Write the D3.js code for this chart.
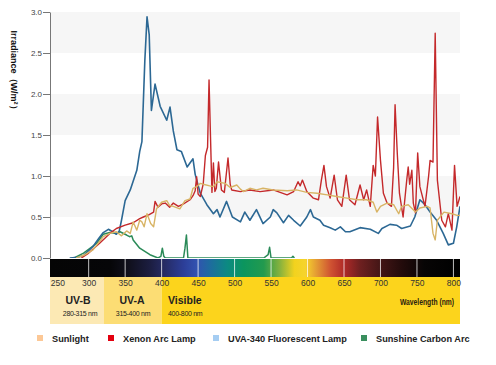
<!DOCTYPE html>
<html><head><meta charset="utf-8">
<script src="https://cdn.jsdelivr.net/npm/d3@7"></script>
<style>body{margin:0;background:#fff}svg{display:block}text{font-family:"Liberation Sans",Arial,sans-serif}</style>
</head><body><svg id="c" width="496" height="365"></svg>
<script>
const yTicks = [0, 0.5, 1.0, 1.5, 2.0, 2.5, 3.0];
const xTicks = [250, 300, 350, 400, 450, 500, 550, 600, 650, 700, 750, 800];
const seriesNames = ["Sunlight", "Xenon Arc Lamp", "UVA-340 Fluorescent Lamp", "Sunshine Carbon Arc"];
const legendColors = ["#fcc896", "#e3000f", "#a5cdf2", "#3a8f5e"];
const lineColors = ["#d8b465", "#c4292b", "#2c6894", "#2a8a58"];
const bands = [
  {label: "UV-B", range: "280-315 nm", from: 247, to: 321},
  {label: "UV-A", range: "315-400 nm", from: 321, to: 400},
  {label: "Visible", range: "400-800 nm", from: 400, to: 809}
];
const sunlight = [[283,0],[295,0.04],[306,0.10],[320,0.26],[329,0.30],[338,0.32],[345,0.27],[352,0.33],[357,0.30],[361,0.44],[366,0.34],[370,0.46],[373,0.44],[376,0.38],[380,0.54],[385,0.42],[389,0.38],[393,0.60],[400,0.68],[407,0.70],[411,0.64],[416,0.63],[425,0.60],[432,0.70],[439,0.72],[443,0.85],[448,0.87],[453,0.91],[457,0.90],[466,0.88],[471,0.87],[476,0.93],[487,0.91],[494,0.86],[503,0.89],[508,0.84],[512,0.81],[521,0.85],[530,0.83],[539,0.85],[553,0.83],[572,0.82],[585,0.83],[599,0.80],[613,0.79],[627,0.77],[640,0.75],[654,0.73],[668,0.71],[681,0.71],[690,0.68],[695,0.56],[700,0.63],[709,0.67],[718,0.65],[725,0.54],[729,0.63],[738,0.65],[748,0.56],[754,0.61],[764,0.63],[768,0.61],[772,0.30],[775,0.22],[778,0.46],[787,0.56],[798,0.54],[805,0.52],[809,0.52]];
const xenon = [[290,0],[300,0.06],[315,0.18],[329,0.30],[338,0.36],[350,0.40],[361,0.43],[370,0.48],[375,0.50],[383,0.53],[389,0.56],[391,0.69],[395,0.62],[400,0.66],[405,0.67],[411,0.62],[416,0.67],[423,0.63],[430,0.66],[439,0.71],[443,0.76],[446,0.82],[448,0.99],[450,0.78],[453,0.75],[457,0.90],[460,1.25],[463,1.35],[465,2.17],[467,1.48],[469,0.80],[471,1.16],[473,0.81],[475,0.85],[478,1.17],[482,0.83],[486,0.80],[491,1.22],[494,0.90],[496,0.83],[508,0.81],[521,0.83],[535,0.81],[553,0.83],[572,0.77],[581,0.81],[587,0.93],[590,0.88],[593,0.95],[599,0.81],[608,0.73],[615,0.71],[619,0.95],[622.5,1.13],[626,0.87],[631,0.73],[636.5,1.01],[641,0.71],[647,0.63],[653,1.01],[657.5,0.71],[665,0.65],[672,0.89],[677,0.71],[681,0.83],[686,0.63],[690,1.13],[693,1.00],[696,1.72],[700,1.19],[704,0.79],[709,0.67],[715,0.63],[718,1.10],[720,1.87],[723,1.28],[726,0.79],[731,0.50],[736,0.95],[738,1.11],[740,0.90],[743,1.07],[745,0.67],[748,0.55],[751,1.28],[754,0.87],[761,0.63],[766,1.00],[768,1.19],[772,1.17],[775,2.74],[778,0.95],[784,0.46],[789,0.38],[793,0.54],[798,0.34],[801.5,1.13],[805,0.63],[809,0.75]];
const uva340 = [[274,0],[285,0.01],[293,0.03],[306,0.14],[314,0.24],[320,0.31],[327,0.35],[333,0.32],[338,0.29],[342,0.33],[345,0.46],[350,0.70],[357,0.83],[366,1.07],[370,1.30],[373,1.42],[377,2.41],[380,2.94],[383,2.72],[386,1.80],[391,2.12],[398,1.85],[407,1.68],[411.5,1.84],[416,1.55],[421,1.32],[427,1.30],[435,1.11],[443,1.21],[446,1.02],[453,0.79],[462,0.65],[471,0.54],[476,0.59],[480,0.50],[489,0.69],[497,0.50],[508,0.44],[514,0.56],[521,0.46],[530,0.59],[539,0.42],[549,0.50],[553,0.59],[558,0.55],[567,0.43],[574,0.52],[581,0.46],[590,0.39],[599,0.50],[604,0.59],[608,0.50],[617,0.46],[622,0.40],[631,0.37],[638,0.34],[645,0.38],[652,0.32],[658,0.32],[672,0.37],[686,0.35],[697,0.30],[702,0.36],[713,0.41],[722,0.40],[729,0.36],[741,0.39],[747,0.50],[754,0.71],[761,0.65],[768,0.56],[777,0.46],[786,0.30],[793,0.16],[800,0.18],[804.5,0.38],[809,0.63]];
const carbonArc = [[280,0],[293,0.06],[311,0.18],[320,0.29],[329,0.31],[338,0.30],[343,0.32],[352,0.28],[356,0.26],[359,0.27],[361,0.22],[370,0.12],[384,0.04],[395,0],[399,0.02],[401,0.12],[403,0.02],[405,0],[430,0],[432,0.12],[434,0.28],[436,0],[540,0],[546,0.04],[548,0.13],[550,0],[578,0],[580,0.02],[582,0]];
const spectrumStops = [[247,"#050505"],[330,"#060608"],[355,"#10101c"],[385,"#1c1e42"],[405,"#262c66"],[430,"#2c3e98"],[448,"#3252b0"],[465,"#1f6aa0"],[490,"#0c8a82"],[512,"#0b955e"],[540,"#229a4e"],[562,"#86b23e"],[582,"#f2d21e"],[597,"#f6d42c"],[612,"#e49c34"],[632,"#cf5232"],[650,"#b02a28"],[672,"#6e2020"],[700,"#431616"],[730,"#220b0b"],[760,"#070505"],[809,"#000000"]];

const svg = d3.select("#c");
const x = d3.scaleLinear().domain([247, 809]).range([50, 460]);
const y = d3.scaleLinear().domain([0, 3]).range([258, 12]);

// grid bands
const bandPairs = [[2.5,3.0],[1.5,2.0],[0.5,1.0]];
svg.append("g").selectAll("rect").data(bandPairs).join("rect")
  .attr("x", 51).attr("width", 409)
  .attr("y", d => y(d[1])).attr("height", d => y(d[0]) - y(d[1]))
  .attr("fill", "#f6f6f6");

// lines
svg.append("clipPath").attr("id","clip").append("rect").attr("x",50).attr("y",0).attr("width",410).attr("height",258);
const line = d3.line().x(d => x(d[0])).y(d => y(d[1]));
const gl = svg.append("g").attr("clip-path","url(#clip)").attr("fill","none").attr("stroke-linejoin","round");
gl.append("path").datum(carbonArc).attr("d", line).attr("stroke", lineColors[3]).attr("stroke-width", 1.5);
gl.append("path").datum(uva340).attr("d", line).attr("stroke", lineColors[2]).attr("stroke-width", 1.6);
gl.append("path").datum(xenon).attr("d", line).attr("stroke", lineColors[1]).attr("stroke-width", 1.4);
gl.append("path").datum(sunlight).attr("d", line).attr("stroke", lineColors[0]).attr("stroke-width", 1.4);

// spectrum bar
const defs = svg.append("defs");
const grad = defs.append("linearGradient").attr("id","spec").attr("gradientUnits","userSpaceOnUse")
  .attr("x1", x(247)).attr("x2", x(809)).attr("y1",0).attr("y2",0);
grad.selectAll("stop").data(spectrumStops).join("stop")
  .attr("offset", d => (d[0]-247)/(809-247)).attr("stop-color", d => d[1]);
svg.append("rect").attr("x", 50).attr("y", 259).attr("width", 410).attr("height", 18).attr("fill","url(#spec)");
svg.append("g").selectAll("line").data(xTicks.filter(t => t > 250)).join("line")
  .attr("x1", d => x(d)).attr("x2", d => x(d)).attr("y1", 259).attr("y2", 277)
  .attr("stroke", "rgba(255,255,255,0.75)").attr("stroke-width", 1);

// yellow bands
const bandColors = ["#fce9b4", "#fcdd74", "#fcd41c"];
svg.append("g").selectAll("rect").data(bands).join("rect")
  .attr("x", d => x(d.from)).attr("width", d => x(d.to) - x(d.from))
  .attr("y", 277).attr("height", 47).attr("fill", (d,i) => bandColors[i]);
const bt = svg.append("g");
bt.append("text").attr("x", 78).attr("y", 304).attr("text-anchor","middle").attr("font-size",10.5).attr("font-weight","bold").attr("fill","#222").text(bands[0].label);
bt.append("text").attr("x", 80).attr("y", 316).attr("text-anchor","middle").attr("font-size",7).attr("fill","#222").attr("letter-spacing",-0.3).text(bands[0].range);
bt.append("text").attr("x", 132).attr("y", 304).attr("text-anchor","middle").attr("font-size",10.5).attr("font-weight","bold").attr("fill","#222").text(bands[1].label);
bt.append("text").attr("x", 133).attr("y", 316).attr("text-anchor","middle").attr("font-size",7).attr("fill","#222").attr("letter-spacing",-0.3).text(bands[1].range);
bt.append("text").attr("x", 168).attr("y", 304).attr("font-size",10.5).attr("font-weight","bold").attr("fill","#222").text(bands[2].label);
bt.append("text").attr("x", 168).attr("y", 316).attr("font-size",7).attr("fill","#222").attr("letter-spacing",-0.3).text(bands[2].range);
bt.append("text").attr("x", 454).attr("y", 305).attr("text-anchor","end").attr("font-size",9.5).attr("font-weight","bold")
  .attr("font-family","'DejaVu Sans Condensed','DejaVu Sans',sans-serif").attr("fill","#2a2010")
  .attr("textLength", 54).attr("lengthAdjust","spacingAndGlyphs").text("Wavelength (nm)");

// x axis labels
const xa = svg.append("g").attr("transform","translate(0,277)")
  .call(d3.axisBottom(x).tickValues(xTicks).tickSize(0).tickPadding(3).tickFormat(d3.format("d")));
xa.select(".domain").remove();
xa.selectAll("text").attr("font-size", 8.5).attr("fill","#333").attr("font-family","'Liberation Sans',Arial,sans-serif")
  .attr("text-anchor", d => d === 250 ? "start" : "middle").attr("dx", d => d === 250 ? -2 : 0);

// y axis
const ya = svg.append("g").attr("transform","translate(50,0)")
  .call(d3.axisLeft(y).tickValues(yTicks).tickSize(7).tickSizeOuter(0).tickPadding(1).tickFormat(d3.format(".1f")));
ya.select(".domain").attr("stroke","#777");
ya.selectAll(".tick line").attr("stroke","#777");
ya.selectAll("text").attr("font-size", 8).attr("fill","#444").attr("font-family","'Liberation Sans',Arial,sans-serif");

svg.append("text").attr("transform","translate(11,72) rotate(90)").attr("text-anchor","middle")
  .attr("font-size", 9).attr("font-weight","bold").attr("fill","#111")
  .text("Irradiance（W/m²）");

// legend
const legX = [37, 108, 213, 361];
const lg = svg.append("g").selectAll("g").data(seriesNames).join("g")
  .attr("transform", (d,i) => `translate(${legX[i]},335)`);
lg.append("rect").attr("width", 6).attr("height", 6).attr("fill", (d,i) => legendColors[i]);
lg.append("text").attr("x", 15).attr("y", 6.5).attr("font-size", 9.2).attr("font-weight","bold").attr("fill","#222").text(d => d);
</script></body></html>
